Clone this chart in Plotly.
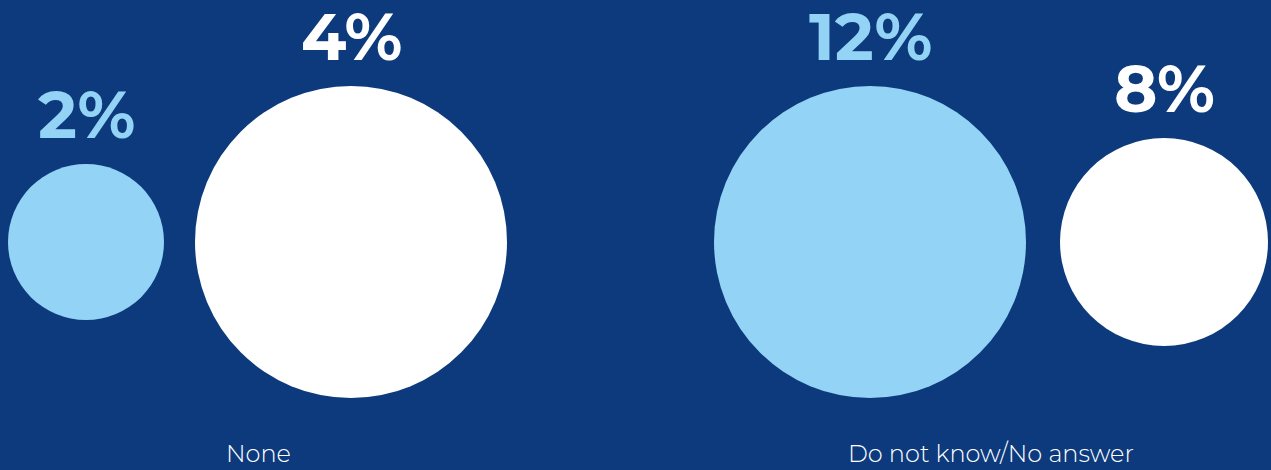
import plotly.graph_objects as go

# ---- data ----
categories = ["None", "Do not know/No answer"]
series_a = [2, 12]          # light blue circles
series_b = [4, 8]           # white circles
labels_a = ["2%", "12%"]
labels_b = ["4%", "8%"]

# ---- style / layout constants ----
W, H = 1271, 470
BG = "#0C3A7C"
LIGHT = "#93D3F5"
WHITE = "#FFFFFF"
MAX_D = 312                 # diameter of the biggest circle in each group (px)
group_left = [8, 714]       # left edge of each group's first circle
group_gap = [31, 34]        # gap between the two circles of a group
cy = 242                    # vertical centre of circles
cat_label_x = [258, 991]
cat_label_y = 453
label_gap = 24              # gap between circle top and value label baseline
VAL_FONT = dict(family="Montserrat, 'Open Sans', sans-serif", size=66, weight=700)
CAT_FONT = dict(family="Montserrat, 'Open Sans', sans-serif", size=24, color=WHITE, weight=300)

fig = go.Figure()

xa, xb, da, db = [], [], [], []
for i in range(len(categories)):
    m = max(series_a[i], series_b[i])
    d1 = MAX_D * series_a[i] / m
    d2 = MAX_D * series_b[i] / m
    c1 = group_left[i] + d1 / 2
    c2 = group_left[i] + d1 + group_gap[i] + d2 / 2
    xa.append(c1); xb.append(c2); da.append(d1); db.append(d2)

fig.add_trace(go.Scatter(x=xa, y=[cy] * len(xa), mode="markers",
                         marker=dict(size=da, color=LIGHT, opacity=1, line=dict(width=0)),
                         hoverinfo="skip", showlegend=False))
fig.add_trace(go.Scatter(x=xb, y=[cy] * len(xb), mode="markers",
                         marker=dict(size=db, color=WHITE, opacity=1, line=dict(width=0)),
                         hoverinfo="skip", showlegend=False))

for xs, ds, labs, col in [(xa, da, labels_a, LIGHT), (xb, db, labels_b, WHITE)]:
    for x, d, lab in zip(xs, ds, labs):
        fig.add_annotation(x=x, y=cy - d / 2 - label_gap, text=lab, showarrow=False,
                           xanchor="center", yanchor="bottom", yshift=-17,
                           font=dict(color=col, **VAL_FONT))

for x, cat in zip(cat_label_x, categories):
    fig.add_annotation(x=x, y=cat_label_y, text=cat, showarrow=False,
                       xanchor="center", yanchor="middle", font=CAT_FONT)

fig.update_layout(
    width=W, height=H,
    margin=dict(l=0, r=0, t=0, b=0),
    paper_bgcolor=BG, plot_bgcolor=BG,
    xaxis=dict(range=[0, W], visible=False, fixedrange=True),
    yaxis=dict(range=[H, 0], visible=False, fixedrange=True),
)

fig.write_html("out.html", config={"displayModeBar": False},
               post_script="document.body.style.margin='0';document.body.style.background='%s';" % BG)
